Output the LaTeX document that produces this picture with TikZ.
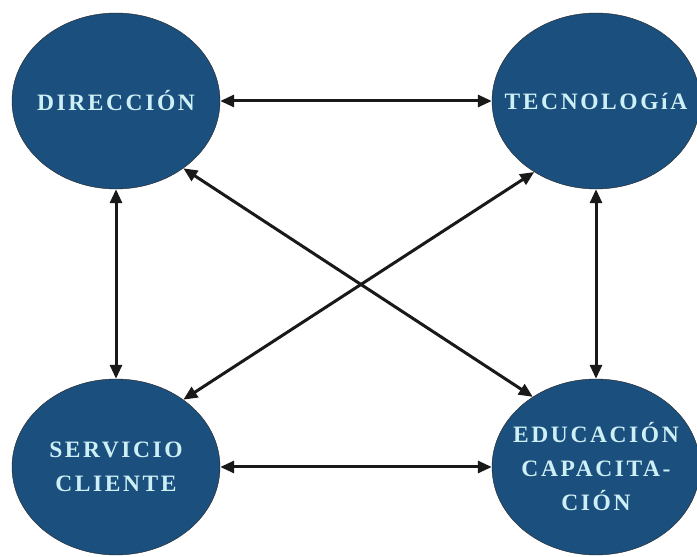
\documentclass[tikz,border=0pt]{standalone}
\usepackage{fontspec}
\newfontfamily\areafont[LetterSpace=11]{Liberation Serif}
\usetikzlibrary{
    arrows.meta,
    shapes.geometric,
    positioning
}
\definecolor{areafill}{HTML}{1B4F7D}
\definecolor{areatext}{HTML}{CDEFF6}

\begin{document}
\begin{tikzpicture}[
    x=1pt, y=1pt,
    area/.style={
      ellipse,
      draw=black!85,
      fill=areafill,
      text=areatext,
      minimum width=208pt,
      minimum height=176pt,
      inner xsep=-20pt,
      inner ysep=0pt,
      align=center,
      font=\areafont\bfseries\fontsize{23.5}{34}\selectfont
    },
    link/.style={
      {Triangle[length=14pt,width=12pt]}-{Triangle[length=14pt,width=12pt]},
      line width=3pt,
      draw=black!90
    }
  ]

  \useasboundingbox (0,0) rectangle (697,557);

  % areas {{{
  \node[area] (direccion) at (116,456) {DIRECCIÓN};
  \node[area] (tecnologia) at (596,456) {TECNOLOGíA};
  \node[area] (servicio) at (116,90) {SERVICIO\\CLIENTE};
  \node[area] (educacion) at (596,90) {EDUCACIÓN\\CAPACITA-\\CIÓN};
  % }}}

  % links {{{
  \draw[link] (direccion) -- (tecnologia);
  \draw[link] (servicio) -- (educacion);
  \draw[link] (direccion) -- (servicio);
  \draw[link] (tecnologia) -- (educacion);
  \draw[link] (direccion.-45) -- (educacion.132);
  \draw[link] (tecnologia.-131) -- (servicio.45);
  % }}}

\end{tikzpicture}
\end{document}
